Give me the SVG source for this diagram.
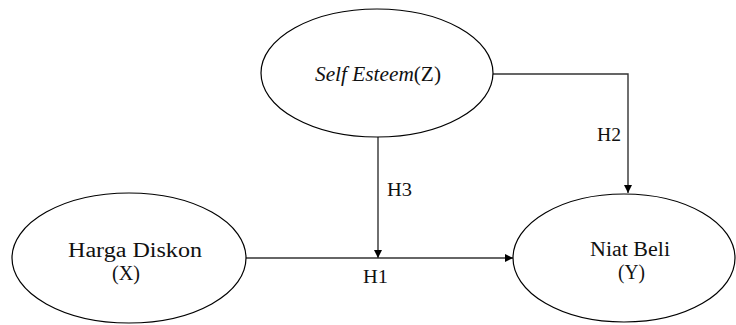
<svg xmlns="http://www.w3.org/2000/svg" width="736" height="325" viewBox="0 0 736 325">
<defs>
<style>
.node ellipse{fill:#fff;stroke:#000;stroke-width:1.2}
.t{font-family:"Liberation Serif","Times New Roman",serif;font-size:20px;fill:#111}
.lbl{font-family:"Liberation Serif","Times New Roman",serif;font-size:19px;fill:#111}
.conn path{fill:none;stroke:#333;stroke-width:1.4}
</style>
<marker id="arr" viewBox="0 0 10 10" refX="10" refY="5" markerWidth="8" markerHeight="8" markerUnits="userSpaceOnUse" orient="auto">
<path d="M0,0 L10,5 L0,10 Z" fill="#000"/>
</marker>
</defs>
<rect width="736" height="325" fill="#fff"/>
<g class="conn">
<path d="M246,258 H513" marker-end="url(#arr)"/>
<path d="M378,137 V258" marker-end="url(#arr)"/>
<path d="M493,74 H628 V193" marker-end="url(#arr)"/>
</g>
<g class="lbl">
<text x="363" y="283" textLength="25" lengthAdjust="spacingAndGlyphs">H1</text>
<text x="387" y="196" textLength="25" lengthAdjust="spacingAndGlyphs">H3</text>
<text x="597" y="141" textLength="24" lengthAdjust="spacingAndGlyphs">H2</text>
</g>
<g id="node-z" class="node">
<ellipse cx="377" cy="73" rx="116" ry="64"/>
<text class="t" x="315" y="81" textLength="126" lengthAdjust="spacingAndGlyphs"><tspan font-style="italic">Self Esteem</tspan>(Z)</text>
</g>
<g id="node-x" class="node">
<ellipse cx="129" cy="258" rx="117" ry="65"/>
<text class="t" x="68" y="257" textLength="134" lengthAdjust="spacingAndGlyphs">Harga Diskon</text>
<text class="t" x="112" y="280" textLength="28" lengthAdjust="spacingAndGlyphs">(X)</text>
</g>
<g id="node-y" class="node">
<ellipse cx="624" cy="258" rx="111" ry="64"/>
<text class="t" x="590" y="256" textLength="80" lengthAdjust="spacingAndGlyphs">Niat Beli</text>
<text class="t" x="618" y="279" textLength="27" lengthAdjust="spacingAndGlyphs">(Y)</text>
</g>
</svg>
